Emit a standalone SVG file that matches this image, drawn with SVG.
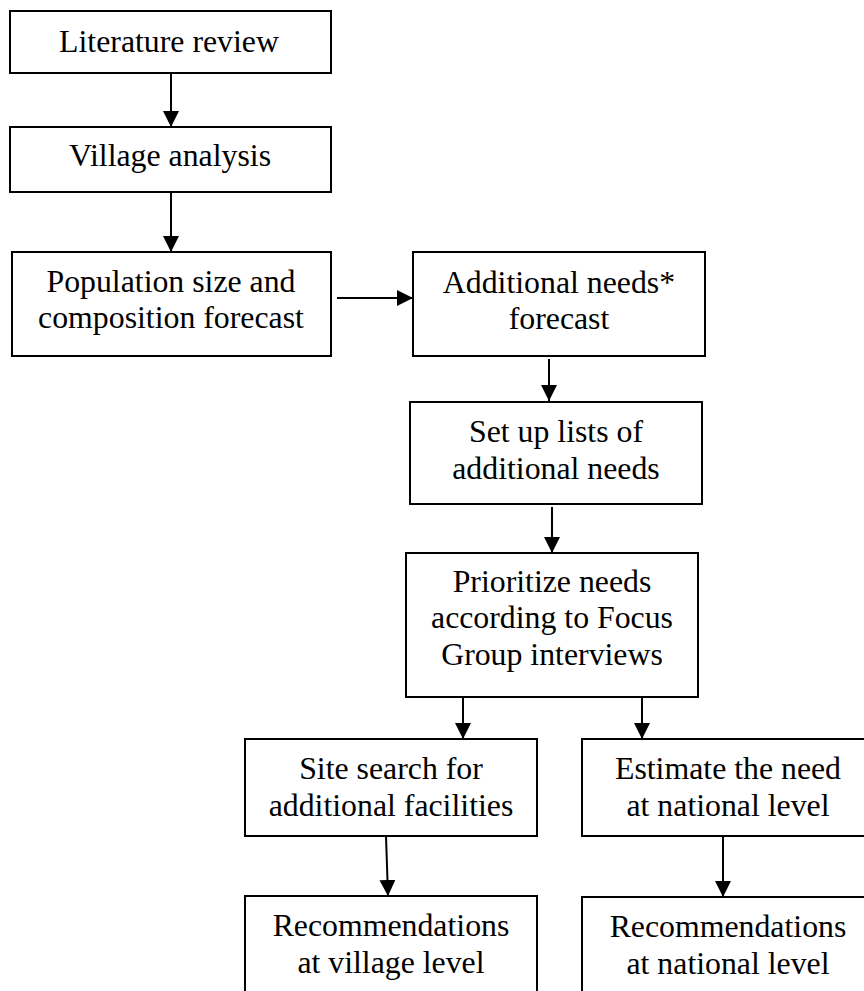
<svg xmlns="http://www.w3.org/2000/svg" width="864" height="991" viewBox="0 0 864 991">
<style>
.box{fill:#fff;stroke:#000;stroke-width:2}
.t{font-family:"Liberation Serif","Times New Roman",serif;font-size:31.8px;fill:#000;text-anchor:middle}
.c{stroke:#000;stroke-width:2;fill:none;marker-end:url(#ah)}
</style>
<defs>
<marker id="ah" markerUnits="userSpaceOnUse" markerWidth="16" markerHeight="16" refX="16" refY="8" orient="auto">
<path d="M0,0 L16,8 L0,16 z" fill="#000"/>
</marker>
</defs>
<rect width="864" height="991" fill="#fff"/>
<g id="connectors">
<line class="c" x1="171" y1="73" x2="171" y2="127"/>
<line class="c" x1="171" y1="192" x2="171" y2="252"/>
<line class="c" x1="337" y1="298" x2="413" y2="298"/>
<line class="c" x1="549" y1="359" x2="549" y2="401"/>
<line class="c" x1="552" y1="507" x2="552" y2="553"/>
<line class="c" x1="463" y1="697" x2="463" y2="739"/>
<line class="c" x1="642" y1="697" x2="642" y2="739"/>
<line class="c" x1="386" y1="836" x2="388" y2="896"/>
<line class="c" x1="723" y1="837" x2="723" y2="897"/>
</g>
<g id="n1"><rect class="box" x="10" y="11" width="321" height="62"/><text class="t" x="169" y="52">Literature review</text></g>
<g id="n2"><rect class="box" x="10" y="127" width="321" height="65"/><text class="t" x="170" y="166">Village analysis</text></g>
<g id="n3"><rect class="box" x="12" y="252" width="319" height="104"/><text class="t" x="171" y="291.7">Population size and</text><text class="t" x="171" y="328">composition forecast</text></g>
<g id="n4"><rect class="box" x="413" y="252" width="292" height="104"/><text class="t" x="559" y="292.7">Additional needs*</text><text class="t" x="559" y="329.3">forecast</text></g>
<g id="n5"><rect class="box" x="410" y="402" width="292" height="102"/><text class="t" x="556" y="441.7">Set up lists of</text><text class="t" x="556" y="479.3">additional needs</text></g>
<g id="n6"><rect class="box" x="406" y="553" width="292" height="144"/><text class="t" x="552" y="591.7">Prioritize needs</text><text class="t" x="552" y="628.3">according to Focus</text><text class="t" x="552" y="665">Group interviews</text></g>
<g id="n7"><rect class="box" x="245" y="739" width="292" height="97"/><text class="t" x="391" y="779.3">Site search for</text><text class="t" x="391" y="815.7">additional facilities</text></g>
<g id="n8"><rect class="box" x="245" y="896" width="292" height="110"/><text class="t" x="391" y="936">Recommendations</text><text class="t" x="391" y="972.7">at village level</text></g>
<g id="n9"><rect class="box" x="582" y="739" width="292" height="97"/><text class="t" x="728" y="779.3">Estimate the need</text><text class="t" x="728" y="815.7">at national level</text></g>
<g id="n10"><rect class="box" x="582" y="897" width="292" height="110"/><text class="t" x="728" y="937.3">Recommendations</text><text class="t" x="728" y="974">at national level</text></g>
</svg>
